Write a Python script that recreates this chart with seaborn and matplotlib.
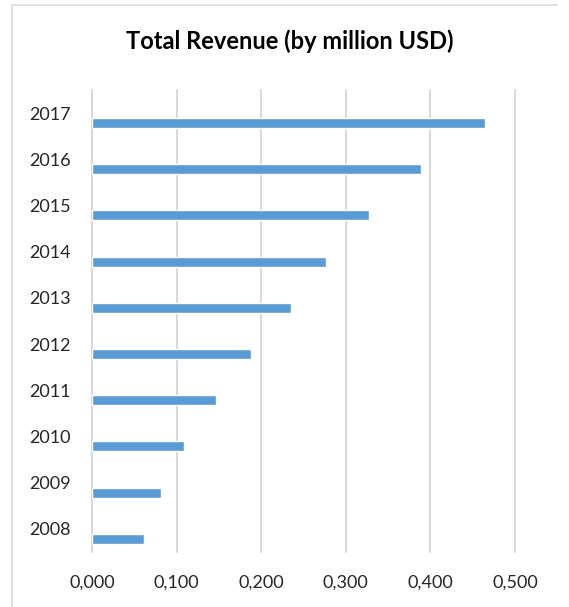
import numpy as np
import pandas as pd
import matplotlib
matplotlib.use("Agg")
import matplotlib.pyplot as plt
from matplotlib.lines import Line2D
import seaborn as sns

# Yearly revenue, million USD
years = [2008, 2009, 2010, 2011, 2012, 2013, 2014, 2015, 2016, 2017]
revenue = [0.061, 0.081, 0.109, 0.146, 0.188, 0.235, 0.277, 0.328, 0.389, 0.465]
x_ticks = [0.0, 0.1, 0.2, 0.3, 0.4, 0.5]
x_tick_labels = ["0,000", "0,100", "0,200", "0,300", "0,400", "0,500"]
title = "Total Revenue (by million USD)"

BAR_COLOR = "#5B9BD5"
GRID_COLOR = "#D9D9D9"
TEXT_COLOR = "#262626"
BAR_WIDTH = 0.216

sns.set_theme(style="white")
plt.rcParams["font.family"] = ["Lato", "DejaVu Sans"]

W, H = 569, 607
fig = plt.figure(figsize=(W / 100, H / 100), dpi=100)
fig.patch.set_facecolor("white")

# plot area in pixel terms: left 92, right 515, top 90, bottom 552
ax = fig.add_axes([92 / W, 1 - 552 / H, (515 - 92) / W, (552 - 90) / H])

df = pd.DataFrame({"year": [str(y) for y in years], "revenue": revenue})
order = [str(y) for y in sorted(years, reverse=True)]

sns.barplot(data=df, x="revenue", y="year", order=order, orient="h",
            width=BAR_WIDTH, color=BAR_COLOR, saturation=1, ax=ax)

# category labels sit one bar-width above their bar
n = len(order)
ax.set_yticks(np.arange(n) - BAR_WIDTH)
ax.set_yticklabels(order)
ax.set_ylim(n - 0.5 - BAR_WIDTH, -0.5 - BAR_WIDTH)

ax.set_xlim(0, 0.5)
ax.set_xticks(x_ticks)
ax.set_xticklabels(x_tick_labels)
ax.set_xlabel("")
ax.set_ylabel("")

ax.set_axisbelow(True)
ax.xaxis.grid(True, color=GRID_COLOR, linewidth=1.5)
for line in ax.get_xgridlines():
    line.set_clip_on(False)
ax.yaxis.grid(False)
for s in ax.spines.values():
    s.set_visible(False)

ax.tick_params(axis="x", length=0, pad=16, labelsize=13, labelcolor=TEXT_COLOR)
ax.tick_params(axis="y", length=0, pad=15, labelsize=13, labelcolor=TEXT_COLOR)

fig.text(290 / W, 1 - 49 / H, title, ha="center", va="baseline",
         fontsize=17, fontweight="bold", color="black")

# chart frame (top and left edges)
fig.add_artist(Line2D([11.5 / W, 11.5 / W], [0, 1 - 5 / H], transform=fig.transFigure,
                      color=GRID_COLOR, linewidth=1.2))
fig.add_artist(Line2D([11.5 / W, 557 / W], [1 - 5 / H, 1 - 5 / H], transform=fig.transFigure,
                      color=GRID_COLOR, linewidth=1.2))

fig.savefig("out.png", dpi=100, facecolor="white")
